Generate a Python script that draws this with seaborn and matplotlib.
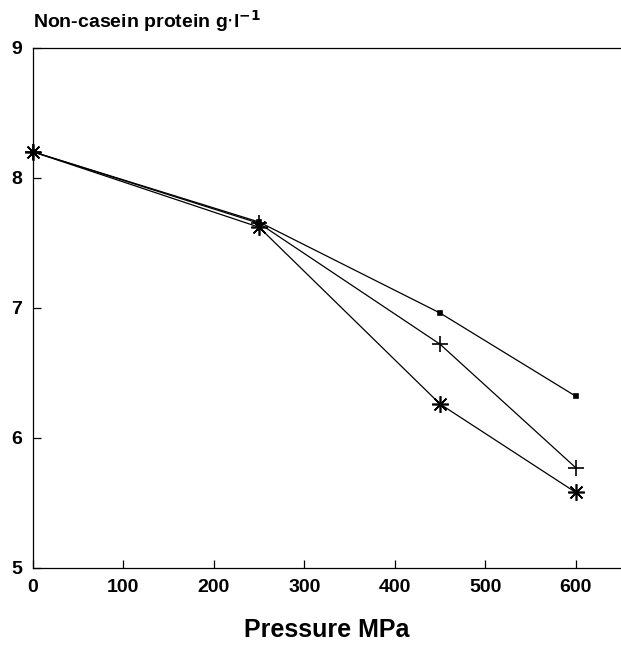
import pandas as pd
import matplotlib.pyplot as plt
import seaborn as sns

# Values
pressure = [0, 250, 450, 600]
protein_square = [8.20, 7.66, 6.96, 6.32]
protein_plus = [8.20, 7.65, 6.72, 5.77]
protein_star = [8.20, 7.62, 6.26, 5.58]

x_ticks = [0, 100, 200, 300, 400, 500, 600]
y_ticks = [5, 6, 7, 8, 9]

sns.set_style('ticks')
plt.rcParams['font.family'] = ['Liberation Sans', 'DejaVu Sans']
plt.rcParams['text.color'] = 'black'
plt.rcParams['axes.labelcolor'] = 'black'
plt.rcParams['xtick.color'] = 'black'
plt.rcParams['ytick.color'] = 'black'
plt.rcParams['axes.edgecolor'] = 'black'

fig = plt.figure(figsize=(6.21, 6.46), dpi=100)
ax = fig.add_axes([0.053, 0.121, 0.947, 0.805])

series = [
    (protein_square, 's', 3.5),
    (protein_plus, '+', 12),
    (protein_star, (8, 2, 0), 12),
]
for values, marker, size in series:
    df = pd.DataFrame({'Pressure': pressure, 'Protein': values})
    sns.lineplot(data=df, x='Pressure', y='Protein', ax=ax, color='black',
                 linewidth=0.9, marker=marker, markersize=size,
                 markeredgewidth=1.2, markeredgecolor='black', clip_on=False)

ax.set_xlim(0, 650)
ax.set_ylim(5, 9)
ax.set_xticks(x_ticks)
ax.set_yticks(y_ticks)
ax.tick_params(direction='in', length=6, width=0.9, labelsize=14, pad=8)
for lab in ax.get_xticklabels() + ax.get_yticklabels():
    lab.set_fontweight('bold')
ax.spines['right'].set_visible(False)
for s in ['left', 'bottom', 'top']:
    ax.spines[s].set_linewidth(0.9)

ax.set_xlabel('Pressure MPa', fontsize=18, fontweight='bold', labelpad=16)
ax.set_ylabel('')
fig.text(0.053, 0.948, r'Non-casein protein g$\cdot$l$^{\mathbf{-1}}$',
         fontsize=14, fontweight='bold', ha='left', va='bottom')

fig.savefig('out.png', dpi=100)
